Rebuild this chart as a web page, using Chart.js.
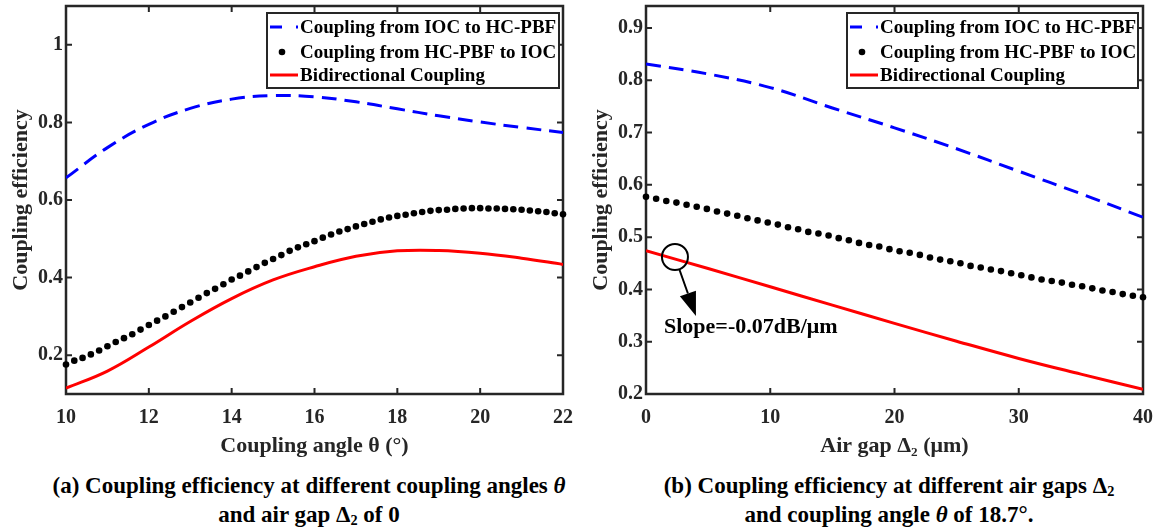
<!DOCTYPE html>
<html>
<head>
<meta charset="utf-8">
<script src="https://cdn.jsdelivr.net/npm/chart.js@4.4.1/dist/chart.umd.min.js"></script>
<style>
  html, body { margin: 0; padding: 0; background: #fff; overflow: hidden; }
  #page { position: relative; width: 1159px; height: 528px; }
  .panel { position: absolute; top: 0; width: 580px; height: 460px; }
  .caption {
    position: absolute; top: 471px; transform: translateX(-50%);
    white-space: nowrap; text-align: center;
    font-family: "Liberation Serif", serif; font-weight: bold;
    font-size: 23px; line-height: 29px; color: #000;
  }
  .caption sub { font-size: 0.62em; vertical-align: -0.2em; line-height: 0; }
</style>
</head>
<body>
<div id="page">
  <div class="panel" style="left:0"><canvas id="chartA" width="580" height="460"></canvas></div>
  <div class="panel" style="left:580px"><canvas id="chartB" width="580" height="460"></canvas></div>
  <div class="caption" style="left:309px">(a) Coupling efficiency at different coupling angles <i>θ</i><br>and air gap Δ<sub>2</sub> of 0</div>
  <div class="caption" style="left:889px">(b) Coupling efficiency at different air gaps Δ<sub>2</sub><br>and coupling angle <i>θ</i> of 18.7°.</div>
</div>
<script>
// series names
var seriesNames = ["Coupling from IOC to HC-PBF", "Coupling from HC-PBF to IOC", "Bidirectional Coupling"];

// (a) coupling angle, air gap 0
var angleLine = [10, 11, 12, 13, 14, 15, 16, 17, 18, 19, 20, 21, 22];
var angleIocToHc = [0.657, 0.735, 0.795, 0.836, 0.860, 0.869, 0.866, 0.853, 0.835, 0.817, 0.801, 0.787, 0.774];
var angleBidir = [0.115, 0.159, 0.221, 0.287, 0.346, 0.394, 0.428, 0.455, 0.469, 0.470, 0.463, 0.450, 0.434];
var angleDots = [10, 10.2, 10.4, 10.6, 10.8, 11, 11.2, 11.4, 11.6, 11.8, 12, 12.2, 12.4, 12.6, 12.8, 13, 13.2, 13.4, 13.6, 13.8,
  14, 14.2, 14.4, 14.6, 14.8, 15, 15.2, 15.4, 15.6, 15.8, 16, 16.2, 16.4, 16.6, 16.8, 17, 17.2, 17.4, 17.6, 17.8,
  18, 18.2, 18.4, 18.6, 18.8, 19, 19.2, 19.4, 19.6, 19.8, 20, 20.2, 20.4, 20.6, 20.8, 21, 21.2, 21.4, 21.6, 21.8, 22];
var angleHcToIoc = [0.176, 0.186, 0.193, 0.202, 0.212, 0.223, 0.234, 0.244, 0.254, 0.266, 0.278, 0.289, 0.300, 0.312, 0.324, 0.336, 0.348, 0.360, 0.371, 0.383,
  0.395, 0.405, 0.416, 0.427, 0.438, 0.448, 0.458, 0.469, 0.478, 0.486, 0.494, 0.503, 0.511, 0.519, 0.525, 0.532, 0.538, 0.544, 0.550, 0.555,
  0.559, 0.562, 0.566, 0.569, 0.572, 0.574, 0.575, 0.577, 0.578, 0.579, 0.579, 0.578, 0.578, 0.577, 0.576, 0.575, 0.573, 0.571, 0.569, 0.566, 0.563];
var angleXTicks = [10, 12, 14, 16, 18, 20, 22];
var angleYTicks = [0.2, 0.4, 0.6, 0.8, 1];
var angleYLabels = ["0.2", "0.4", "0.6", "0.8", "1"];

// (b) air gap, angle 18.7
var gapLine = [0, 5, 10, 15, 20, 25, 30, 35, 40];
var gapIocToHc = [0.831, 0.812, 0.786, 0.747, 0.709, 0.669, 0.626, 0.583, 0.538];
var gapBidir = [0.474, 0.440, 0.405, 0.370, 0.335, 0.301, 0.268, 0.238, 0.209];
var gapDots = [0, 0.816, 1.633, 2.449, 3.265, 4.082, 4.898, 5.714, 6.531, 7.347, 8.163, 8.980, 9.796, 10.612, 11.429, 12.245, 13.061,
  13.878, 14.694, 15.510, 16.327, 17.143, 17.959, 18.776, 19.592, 20.408, 21.224, 22.041, 22.857, 23.673, 24.490, 25.306, 26.122,
  26.939, 27.755, 28.571, 29.388, 30.204, 31.020, 31.837, 32.653, 33.469, 34.286, 35.102, 35.918, 36.735, 37.551, 38.367, 39.184, 40];
var gapHcToIoc = [0.577, 0.5735, 0.569, 0.566, 0.562, 0.558, 0.554, 0.549, 0.545, 0.541,
  0.536, 0.532, 0.528, 0.524, 0.519, 0.515, 0.510, 0.507, 0.503, 0.498,
  0.494, 0.489, 0.485, 0.482, 0.477, 0.473, 0.470, 0.466, 0.461, 0.457,
  0.454, 0.450, 0.445, 0.442, 0.438, 0.435, 0.431, 0.427, 0.423, 0.419,
  0.416, 0.413, 0.409, 0.406, 0.402, 0.398, 0.395, 0.391, 0.388, 0.385];
var gapXTicks = [0, 10, 20, 30, 40];
var gapYTicks = [0.2, 0.3, 0.4, 0.5, 0.6, 0.7, 0.8, 0.9];
var gapYLabels = ["0.2", "0.3", "0.4", "0.5", "0.6", "0.7", "0.8", "0.9"];

// slope note on (b), in data units
var noteCircle = [2.33, 0.462];
var noteArrowTip = [4.02, 0.349];
var noteTextAt = [1.45, 0.317];
var noteText = "Slope=-0.07dB/\u03bcm";

var axisColor = "#262626";
var serif = "'Liberation Serif', 'Times New Roman', serif";

function pts(xs, ys) {
  return xs.map(function (v, i) { return { x: v, y: ys[i] }; });
}

function makeDatasets(lx, blue, red, dx, dots) {
  return [
    { label: seriesNames[0], data: pts(lx, blue), borderColor: "#0000ff", borderWidth: 3, borderDash: [15, 8],
      pointRadius: 0, tension: 0.4, fill: false },
    { label: seriesNames[1], data: pts(dx, dots), showLine: false, pointRadius: 3.3, pointBorderWidth: 0,
      pointBackgroundColor: "#000", borderColor: "#000", clip: 6 },
    { label: seriesNames[2], data: pts(lx, red), borderColor: "#ff0000", borderWidth: 3,
      pointRadius: 0, tension: 0.4, fill: false }
  ];
}

var framePlugin = {
  id: "frame",
  beforeDatasetsDraw: function (chart) {
    var ctx = chart.ctx, a = chart.chartArea, sx = chart.scales.x, sy = chart.scales.y;
    ctx.save();
    ctx.strokeStyle = axisColor;
    ctx.lineWidth = 2.5;
    ctx.strokeRect(a.left, a.top, a.right - a.left, a.bottom - a.top);
    ctx.lineWidth = 2;
    ctx.beginPath();
    sx.ticks.forEach(function (t) {
      var p = sx.getPixelForValue(t.value);
      ctx.moveTo(p, a.bottom); ctx.lineTo(p, a.bottom - 6);
      ctx.moveTo(p, a.top); ctx.lineTo(p, a.top + 6);
    });
    sy.ticks.forEach(function (t) {
      var p = sy.getPixelForValue(t.value);
      ctx.moveTo(a.left, p); ctx.lineTo(a.left + 6, p);
      ctx.moveTo(a.right, p); ctx.lineTo(a.right - 6, p);
    });
    ctx.stroke();
    ctx.restore();
  }
};

var boxLegend = {
  id: "boxLegend",
  afterDraw: function (chart, args, opts) {
    var ctx = chart.ctx, a = chart.chartArea;
    var x0 = a.right - opts.right - opts.width, y0 = a.top + opts.top;
    var rows = [14, 39, 62];
    ctx.save();
    ctx.fillStyle = "#fff";
    ctx.fillRect(x0, y0, opts.width, opts.height);
    ctx.strokeStyle = axisColor;
    ctx.lineWidth = 2;
    ctx.strokeRect(x0, y0, opts.width, opts.height);
    chart.data.datasets.forEach(function (ds, i) {
      var cy = y0 + rows[i];
      if (ds.showLine === false) {
        ctx.fillStyle = ds.pointBackgroundColor;
        ctx.beginPath();
        ctx.arc(x0 + 15, cy, ds.pointRadius, 0, Math.PI * 2);
        ctx.fill();
      } else {
        ctx.strokeStyle = ds.borderColor;
        ctx.lineWidth = ds.borderWidth;
        ctx.setLineDash(ds.borderDash ? [12, 14] : []);
        ctx.beginPath();
        ctx.moveTo(x0 + 3, cy);
        ctx.lineTo(x0 + 31, cy);
        ctx.stroke();
        ctx.setLineDash([]);
      }
      ctx.fillStyle = "#000";
      ctx.font = "bold 19px " + serif;
      ctx.textBaseline = "middle";
      ctx.textAlign = "left";
      ctx.fillText(ds.label, x0 + 33, cy + 1);
    });
    ctx.restore();
  }
};

var slopeNote = {
  id: "slopeNote",
  afterDatasetsDraw: function (chart) {
    var ctx = chart.ctx, sx = chart.scales.x, sy = chart.scales.y;
    var cx = sx.getPixelForValue(noteCircle[0]), cy = sy.getPixelForValue(noteCircle[1]);
    var tx = sx.getPixelForValue(noteArrowTip[0]), ty = sy.getPixelForValue(noteArrowTip[1]);
    var r = 13, dx = tx - cx, dy = ty - cy, len = Math.sqrt(dx * dx + dy * dy);
    var ux = dx / len, uy = dy / len;
    var bx = tx - ux * 24, by = ty - uy * 24;
    ctx.save();
    ctx.strokeStyle = "#000";
    ctx.lineWidth = 2;
    ctx.beginPath();
    ctx.arc(cx, cy, r, 0, Math.PI * 2);
    ctx.stroke();
    ctx.beginPath();
    ctx.moveTo(cx + ux * r, cy + uy * r);
    ctx.lineTo(bx, by);
    ctx.stroke();
    ctx.fillStyle = "#000";
    ctx.beginPath();
    ctx.moveTo(tx, ty);
    ctx.lineTo(bx - uy * 8.5, by + ux * 8.5);
    ctx.lineTo(bx + uy * 8.5, by - ux * 8.5);
    ctx.closePath();
    ctx.fill();
    ctx.font = "bold 22px " + serif;
    ctx.textBaseline = "alphabetic";
    ctx.textAlign = "left";
    ctx.fillText(noteText, sx.getPixelForValue(noteTextAt[0]), sy.getPixelForValue(noteTextAt[1]));
    ctx.restore();
  }
};

function makeChart(id, datasets, xr, xTicks, xTitle, yr, yTicks, yLabels, legendOpts, extra) {
  var tickFont = { family: serif, weight: "bold", size: 20 };
  var titleFont = { family: serif, weight: "bold", size: 22 };
  return new Chart(document.getElementById(id), {
    type: "line",
    data: { datasets: datasets },
    plugins: [framePlugin, boxLegend].concat(extra),
    options: {
      responsive: false,
      animation: false,
      devicePixelRatio: 1,
      layout: { padding: { left: 0, right: 17, top: 6, bottom: 0 } },
      plugins: { legend: { display: false }, tooltip: { enabled: false }, boxLegend: legendOpts },
      scales: {
        x: {
          type: "linear", min: xr[0], max: xr[1],
          afterBuildTicks: function (s) { s.ticks = xTicks.map(function (v) { return { value: v }; }); },
          ticks: { font: tickFont, color: axisColor, padding: 12, maxRotation: 0,
            callback: function (v) { return String(v); } },
          grid: { display: false, drawTicks: false },
          border: { display: false },
          title: { display: true, text: xTitle, font: titleFont, color: axisColor, padding: { top: 0, bottom: 0 } },
          afterFit: function (s) { s.height = 66; s.paddingLeft = 0; s.paddingRight = 0; }
        },
        y: {
          type: "linear", min: yr[0], max: yr[1],
          afterBuildTicks: function (s) { s.ticks = yTicks.map(function (v) { return { value: v }; }); },
          ticks: { font: tickFont, color: axisColor, padding: 3,
            callback: function (v, i) { return yLabels[i]; } },
          grid: { display: false, drawTicks: false },
          border: { display: false },
          title: { display: true, text: "Coupling efficiency", font: titleFont, color: axisColor, padding: { top: 8, bottom: 0 } },
          afterFit: function (s) { s.width = 66; s.paddingTop = 0; s.paddingBottom = 0; }
        }
      }
    }
  });
}

makeChart("chartA", makeDatasets(angleLine, angleIocToHc, angleBidir, angleDots, angleHcToIoc),
  [10, 22], angleXTicks, "Coupling angle \u03b8 (\u00b0)",
  [0.1, 1.1], angleYTicks, angleYLabels,
  { right: 4, top: 7, width: 292, height: 75 }, []);

makeChart("chartB", makeDatasets(gapLine, gapIocToHc, gapBidir, gapDots, gapHcToIoc),
  [0, 40], gapXTicks, "Air gap \u0394\u2082 (\u03bcm)",
  [0.2, 0.942], gapYTicks, gapYLabels,
  { right: 5, top: 7, width: 291, height: 75 }, [slopeNote]);
</script>
</body>
</html>
